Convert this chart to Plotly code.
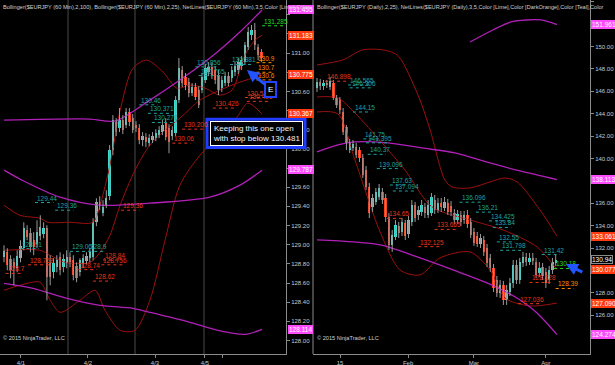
import plotly.graph_objects as go

# ---------------- Left panel: $EURJPY 60 Min ----------------
L_open = [128.869,128.921,128.848,128.816,128.754,128.858,128.963,129.151,129.119,129.046,129.004,129.088,129.109,129.172,128.806,128.712,128.764,128.869,128.764,128.806,128.869,128.837,128.775,128.712,128.795,128.827,128.858,128.869,129.234,129.443,129.328,129.412,129.506,129.987,130.279,130.217,130.300,130.248,130.384,130.321,130.248,130.217,130.091,130.123,130.060,130.091,130.112,130.143,130.175,130.269,130.217,130.133,130.164,130.509,130.823,130.749,130.697,130.582,130.645,130.614,130.614,130.718,130.802,130.854,130.823,130.770,130.634,130.687,130.760,130.739,130.802,130.823,130.864,130.906,131.063,131.188,131.241,131.063,131.011]
L_high = [128.994,128.963,128.890,128.858,128.942,129.046,129.234,129.203,129.172,129.130,129.255,129.307,129.234,129.203,128.890,128.858,128.890,128.921,128.900,128.942,128.921,128.890,128.816,128.858,128.900,128.921,128.963,129.276,129.485,129.506,129.464,129.569,130.039,130.352,130.321,130.426,130.352,130.426,130.426,130.363,130.290,130.258,130.175,130.164,130.154,130.175,130.206,130.237,130.300,130.321,130.258,130.237,130.551,130.948,130.864,130.791,130.739,130.687,130.687,130.655,130.791,130.885,130.906,130.896,130.864,130.823,130.760,130.802,130.802,130.864,130.906,130.948,130.969,131.115,131.272,131.293,131.314,131.094,131.042]
L_low = [128.816,128.733,128.649,128.576,128.712,128.816,128.942,129.046,128.921,128.890,128.963,129.046,129.067,128.419,128.576,128.649,128.712,128.681,128.712,128.754,128.764,128.628,128.608,128.670,128.754,128.795,128.816,128.837,129.193,129.360,129.297,129.381,129.464,129.934,130.133,130.175,130.154,130.217,130.237,130.164,130.175,130.049,130.028,130.018,130.028,130.060,130.081,130.112,130.143,130.091,129.955,130.091,130.133,130.478,130.645,130.614,130.540,130.551,130.509,130.426,130.582,130.687,130.760,130.729,130.676,130.561,130.593,130.655,130.655,130.697,130.760,130.781,130.823,130.875,131.032,131.136,131.032,130.927,130.906]
L_close = [128.931,128.785,128.733,128.754,128.879,128.984,129.172,129.078,128.973,128.973,129.130,129.182,129.172,128.660,128.660,128.806,128.837,128.733,128.848,128.869,128.816,128.681,128.649,128.837,128.858,128.879,128.921,129.234,129.443,129.412,129.391,129.485,129.987,130.300,130.175,130.300,130.196,130.384,130.279,130.196,130.217,130.091,130.133,130.070,130.112,130.133,130.164,130.196,130.248,130.123,130.070,130.196,130.509,130.843,130.687,130.666,130.582,130.645,130.540,130.457,130.749,130.843,130.854,130.770,130.718,130.614,130.718,130.760,130.687,130.823,130.864,130.906,130.927,131.084,131.220,131.241,131.084,130.979,130.948]

L_date_ticks = [5.15, 25.45, 45.76, 60.9, 66.06]
L_date_text = ["4/1", "4/2", "4/3", "4/5", ""]
L_session_breaks = [19.4, 39.7, 60.6]
L_yticks = [round(128.00 + 0.2 * k, 2) for k in range(18)]

# Bollinger (2,25) - dark red
L_bb25_x = {
    "upper": [0, 4.8, 10.9, 13.3, 20, 27, 29.1, 32.1, 35.2, 39.1, 43.3, 48.2, 52.4, 56.4, 60.9, 65.5, 69.1, 73, 76.1, 78.2],
    "mid":   [0, 10.9, 14, 18.5, 26.1, 29.1, 32.1, 35.2, 39.7, 44.2, 48.8, 53.3, 59.4, 65.5, 71.5, 78.2],
    "lower": [0, 4.8, 10.9, 14, 17, 23, 27.6, 30.6, 35.2, 39.7, 44.2, 48.8, 53.3, 59.4, 65.5, 70.6, 73.9, 78.2],
}
L_bb25_y = {
    "upper": [129.412,129.307,129.276,129.234,129.234,129.234,129.412,129.830,130.405,130.843,130.927,130.802,130.634,130.666,130.634,130.561,130.614,130.979,131.136,131.188],
    "mid":   [128.942,128.942,128.890,128.816,128.816,128.921,129.098,129.412,129.778,130.039,130.196,130.321,130.509,130.614,130.697,130.770],
    "lower": [128.524,128.576,128.608,128.419,128.294,128.419,128.524,128.315,128.106,128.106,128.419,129.046,129.621,129.934,130.143,130.331,130.478,130.363],
}
# Bollinger (2,100) - magenta
L_bb100_x = {
    "upper": [0, 26.1, 33.6, 44.2, 53.3, 62.4, 71.5, 78.2],
    "mid":   [0, 5.5, 17, 29.1, 44.2, 62.4, 71.5, 78.2],
    "lower": [0, 8.8, 19.1, 29.1, 39.1, 44.2, 56.4, 64.8, 73, 78.2],
}
L_bb100_y = {
    "upper": [130.300,130.311,130.290,130.509,130.718,130.948,131.220,131.450],
    "mid":   [129.778,129.673,129.496,129.412,129.433,129.496,129.621,129.778],
    "lower": [128.597,128.545,128.440,128.367,128.336,128.294,128.189,128.106,128.064,128.116],
}

L_tags = [131.455, 131.183, 130.775, 130.367, 129.787, 128.114]
L_tag_kind = ["m", "r", "r", "r", "m", "m"]

L_lab_text = ["129.44", "129.36", "128.91", "129.06", "128.9", "129.36", "128.84", "128.756", "128.74", "128.62",
              "128.758", "128.7", "130.46", "130.371", "130.276", "130.206", "130.06", "130.856", "130.765",
              "130.881", "130.426", "130.536", "130.496", "130.9", "130.7", "130.6", "131.285"]
L_lab_x = [9.4, 15.5, 5, 20, 25.5, 35.5, 30, 29.5, 22.5, 27, 7.3, 0.5, 41, 43.6, 44.8, 54, 51, 58, 59,
           68.5, 63.3, 73, 73.6, 76.5, 76.5, 76.5, 78.2]
L_lab_price = [129.44, 129.36, 128.96, 128.93, 128.93, 129.36, 128.84, 128.79, 128.74, 128.62,
               128.79, 128.70, 130.46, 130.371, 130.276, 130.206, 130.06, 130.856, 130.765,
               130.881, 130.426, 130.536, 130.496, 130.90, 130.80, 130.72, 131.285]
L_lab_col = ["t", "t", "t", "t", "t", "r", "r", "r", "r", "r", "r", "r", "t", "t", "t", "r", "r", "t", "t",
             "t", "r", "r", "r", "o", "o", "o", "g"]

# ---------------- Right panel: $EURJPY Daily ----------------
R_open = [146.294,146.830,146.473,146.741,146.384,146.741,145.401,145.223,144.152,142.812,140.759,140.937,141.026,140.759,140.044,138.973,137.455,135.669,136.116,136.562,137.009,136.473,134.776,132.276,132.990,133.973,133.437,134.241,133.259,134.330,135.848,134.955,135.223,135.669,134.955,135.134,136.294,135.401,136.026,135.580,136.026,135.758,135.134,134.509,134.955,134.509,134.955,134.330,133.437,133.080,132.366,132.723,132.009,131.116,130.223,129.152,127.991,128.705,127.366,128.080,128.884,130.491,129.152,130.670,131.205,130.759,131.116,130.759,129.776,130.312,129.866,129.152,130.045,130.670]
R_high = [147.187,147.098,147.009,147.009,147.277,147.009,145.670,145.491,144.509,142.991,141.741,141.651,141.384,141.026,140.402,139.330,137.812,136.830,137.366,137.723,137.366,136.830,135.134,133.616,134.509,134.330,134.687,134.509,134.866,136.294,136.116,135.758,136.294,136.026,136.294,136.919,136.741,136.473,136.473,136.562,136.384,136.205,135.491,135.401,135.312,135.312,135.401,134.687,133.794,133.437,133.259,133.080,132.366,131.473,130.580,129.509,129.152,129.062,128.705,129.330,130.937,130.937,131.116,131.652,131.562,131.562,131.562,131.116,130.759,130.670,130.223,130.402,131.116,131.384]
R_low = [145.937,146.116,146.116,146.294,146.116,145.223,144.509,143.973,142.098,140.759,140.491,140.669,140.044,139.687,138.258,137.187,134.687,135.223,135.848,136.294,135.937,134.330,131.830,131.652,132.723,132.901,133.080,132.723,132.901,133.973,134.330,134.509,134.866,134.687,134.687,134.866,135.044,135.134,135.223,135.312,134.955,134.866,134.152,134.152,133.973,134.152,133.794,132.901,132.187,132.098,132.009,131.294,130.312,129.866,128.080,127.634,127.545,126.920,126.920,127.723,128.437,128.795,128.795,130.312,130.402,130.491,130.491,129.330,129.420,129.152,128.437,128.795,129.687,130.402]
R_close = [146.830,146.473,146.741,146.562,146.919,145.401,144.777,144.330,142.366,141.384,141.384,141.294,140.312,140.044,138.526,137.455,135.134,136.473,137.009,137.366,136.294,134.776,132.276,133.169,134.062,133.348,134.330,133.080,134.509,135.848,134.687,135.401,135.848,135.134,135.848,136.562,135.401,136.026,135.669,136.116,135.223,135.223,134.509,135.044,134.330,134.955,134.152,133.169,132.455,132.366,132.901,131.652,130.670,130.223,128.437,127.991,128.705,127.366,128.259,128.884,130.491,129.152,130.759,131.205,130.759,131.116,130.848,129.598,130.223,129.509,128.884,130.045,130.759,130.937]

R_date_ticks = [7.06, 27.85, 48.0, 70.0]
R_date_text = ["15", "Feb", "Mar", "Apr"]
R_yticks = [124 + 2 * k for k in range(16)]

R_bb25_x = {
    "upper": [0, 7.9, 14, 20, 24, 26, 31.5, 34.6, 39.1, 41.3, 46.8, 52.9, 57.5, 61.2, 68.2, 73.4],
    "mid":   [0, 6.4, 11.6, 19.9, 26.9, 35.2, 46.8, 56.9, 67.3, 73.4],
    "lower": [0, 6.4, 11.6, 19.3, 25.4, 31.5, 37.6, 46.8, 52.9, 57.5, 65.1, 73.4],
}
R_bb25_y = {
    "upper": [148.35,148.80,149.70,149.70,149.35,148.70,145.223,142.544,138.080,137.455,137.366,137.902,138.259,137.902,135.401,133.061],
    "mid":   [145.491,145.401,144.062,141.384,138.973,135.669,134.509,133.616,132.098,130.077],
    "lower": [144.152,143.973,139.866,133.437,130.045,129.598,131.116,131.652,130.045,127.545,126.831,127.090],
}
R_bb100_x = {
    "upper": [46.8, 53.8, 59.3, 63.9, 68.5, 73.4],
    "mid":   [0, 6.4, 11.6, 21.7, 32.1, 42.2, 52.9, 62.1, 73.4],
    "lower": [0, 19.3, 31.5, 41.6, 52, 62.1, 67.3, 73.4],
}
R_bb100_y = {
    "upper": [150.402,151.473,152.188,152.366,152.366,151.961],
    "mid":   [140.580,141.205,141.473,141.384,140.937,140.491,139.598,138.884,138.113],
    "lower": [132.723,132.276,131.116,130.045,128.884,127.366,126.205,124.274],
}

R_tags = [151.961, 138.113, 133.061, 130.94, 130.077, 127.090, 124.274]
R_tag_text = ["151.961", "138.113", "133.061", "130.94", "130.077", "127.090", "124.274"]
R_tag_kind = ["m", "m", "r", "k", "r", "r", "m"]

R_lab_text = ["146.898", "146.565", "146.306", "144.15", "141.75", "141.395", "140.37", "139.096", "137.63",
              "137.094", "134.65", "136.096", "136.21", "134.425", "133.84", "132.55", "131.798", "131.42",
              "133.665", "132.125", "128.928", "127.036", "130.18", "128.39"]
R_lab_x = [2.5, 9.5, 10, 11, 14.2, 15, 15.5, 18.3, 22.3, 23.2, 21.4, 43.6, 48.6, 52.6, 53.8, 55, 56, 68.7,
           36, 31, 65, 61.5, 72.5, 73]
R_lab_price = [146.898, 146.565, 146.306, 144.15, 141.75, 141.395, 140.37, 139.096, 137.63,
               137.094, 134.65, 136.096, 135.21, 134.425, 133.84, 132.55, 131.798, 131.42,
               133.665, 132.125, 128.928, 127.036, 130.18, 128.39]
R_lab_col = ["r", "t", "t", "t", "t", "t", "t", "t", "t", "t", "r", "t", "t", "t", "t", "t", "t", "t",
             "r", "r", "r", "r", "g", "o"]

# ---------------- styling ----------------
W, H = 615, 365
FONT = "Liberation Sans, Arial, sans-serif"
UP, DOWN, WICK = "#3fd8cc", "#ff3b1a", "#9a9a9a"
DKRED, MAG = "#9c1010", "#b020b8"
LABCOL = {"t": "#1fa3a0", "r": "#e8341a", "o": "#ff8c00", "g": "#22dd22"}
TAGBG = {"m": "#ff4cff", "r": "#ff3a10", "k": "#000000"}

L_DOM = [0, 286 / W]
R_DOM = [313 / W, 590 / W]
L_XR = [-1.21, 85.45]
R_XR = [-1.22, 83.49]
L_YR = [127.859, 131.554]
R_YR = [122.54, 154.15]
PLOT_H = 354

fig = go.Figure()


def add_candles(o, h, l, c, xa, ya):
    xs = list(range(len(o)))
    wx, wy = [], []
    for i in xs:
        wx += [i, i, None]
        wy += [l[i], h[i], None]
    fig.add_trace(go.Scatter(x=wx, y=wy, mode="lines", line=dict(color=WICK, width=1),
                             xaxis=xa, yaxis=ya, hoverinfo="skip", showlegend=False))
    body = [c[i] - o[i] if abs(c[i] - o[i]) > 0.004 else (0.006 if xa == "x" else 0.06) for i in xs]
    cols = [UP if c[i] >= o[i] else DOWN for i in xs]
    fig.add_trace(go.Bar(x=xs, y=body, base=o, marker=dict(color=cols, line=dict(width=0)),
                         width=0.72, xaxis=xa, yaxis=ya, showlegend=False, hoverinfo="skip"))


def add_band(xd, yd, color, width, xa, ya):
    for k in xd:
        fig.add_trace(go.Scatter(x=xd[k], y=yd[k], mode="lines",
                                 line=dict(color=color, width=width, shape="spline", smoothing=0.8),
                                 xaxis=xa, yaxis=ya, hoverinfo="skip", showlegend=False))


add_band(L_bb25_x, L_bb25_y, DKRED, 1, "x", "y")
add_band(L_bb100_x, L_bb100_y, MAG, 1.3, "x", "y")
add_band(R_bb25_x, R_bb25_y, DKRED, 1, "x2", "y2")
add_band(R_bb100_x, R_bb100_y, MAG, 1.3, "x2", "y2")
add_candles(L_open, L_high, L_low, L_close, "x", "y")
add_candles(R_open, R_high, R_low, R_close, "x2", "y2")

shapes = []
annotations = []

for b in L_session_breaks:
    shapes.append(dict(type="line", xref="x", yref="y domain", x0=b, x1=b, y0=0, y1=1,
                       line=dict(color="#4a4a4a", width=1), layer="below"))
shapes.append(dict(type="line", xref="x2 domain", yref="y2 domain", x0=0, x1=0, y0=0, y1=1,
                   line=dict(color="#8a8a8a", width=1)))


def add_labels(texts, xs, ps, cols, xa, ya, span):
    for t, x, p, c in zip(texts, xs, ps, cols):
        col = LABCOL[c]
        shapes.append(dict(type="line", xref=xa, yref=ya, x0=x, x1=x + span * len(t) / 6, y0=p, y1=p,
                           line=dict(color=col, width=1, dash="dot")))
        annotations.append(dict(xref=xa, yref=ya, x=x, y=p, text=t, showarrow=False,
                                xanchor="left", yanchor="bottom", yshift=-1,
                                font=dict(family=FONT, size=6.5, color=col)))


add_labels(L_lab_text, L_lab_x, L_lab_price, L_lab_col, "x", "y", 5.6)
add_labels(R_lab_text, R_lab_x, R_lab_price, R_lab_col, "x2", "y2", 5.6)


def add_tags(vals, texts, kinds, xpix, ya):
    for v, t, k in zip(vals, texts, kinds):
        annotations.append(dict(xref="paper", yref=ya, x=xpix / W, y=v, text=t, showarrow=False,
                                xanchor="left", yanchor="middle", bgcolor=TAGBG[k],
                                bordercolor="#8a8a8a" if k == "k" else TAGBG[k], borderwidth=1, borderpad=0,
                                font=dict(family=FONT, size=6.5, color="white")))


add_tags(L_tags, [f"{v:.3f}" for v in L_tags], L_tag_kind, 288, "y")
add_tags(R_tags, R_tag_text, R_tag_kind, 591, "y2")


def tick_texts(ticks, tags, yr):
    ppu = PLOT_H / (yr[1] - yr[0])
    out = []
    for t in ticks:
        hidden = any(abs(t - g) * ppu < 6 for g in tags)
        out.append("" if hidden else f"{t:.2f}")
    return out


# headers
annotations.append(dict(xref="paper", yref="paper", x=1 / W, y=1 - 2 / H, xanchor="left", yanchor="top",
                        showarrow=False, text="Bollinger($EURJPY (60 Min),2,100), Bollinger($EURJPY (60 Min),2,25), NetLines($EURJPY (60 Min),3,5,Color [Lime],Color",
                        font=dict(family=FONT, size=5.6, color="#d0d0d0")))
annotations.append(dict(xref="paper", yref="paper", x=315 / W, y=1 - 2 / H, xanchor="left", yanchor="top",
                        showarrow=False, text="Bollinger($EURJPY (Daily),2,25), NetLines($EURJPY (Daily),3,5,Color [Lime],Color [DarkOrange],Color [Teal],Color",
                        font=dict(family=FONT, size=5.6, color="#d0d0d0")))
for xp in (1, 315):
    annotations.append(dict(xref="paper", yref="paper", x=xp / W, y=1 - 348 / H, xanchor="left", yanchor="middle",
                            showarrow=False, text="© 2015 NinjaTrader, LLC",
                            font=dict(family=FONT, size=5.6, color="#d0d0d0")))

# callout: blue outer frame + white inner frame
shapes.append(dict(type="rect", xref="paper", yref="paper", x0=207 / W, x1=305 / W, y0=1 - 152 / H, y1=1 - 123 / H,
                   line=dict(color="#1f3cff", width=3), fillcolor="#000000"))
annotations.append(dict(xref="paper", yref="paper", x=256 / W, y=1 - 137.5 / H, xanchor="center", yanchor="middle",
                        showarrow=False, text="Keeping this one open<br>with stop below 130.481",
                        align="left", bgcolor="#000000", bordercolor="#ffffff", borderwidth=1, borderpad=2,
                        font=dict(family=FONT, size=8, color="#f0f4ff")))
# E marker with arrow
annotations.append(dict(xref="x", yref="y", x=73.6, y=130.823, ax=24, ay=19, axref="pixel", ayref="pixel",
                        text="E", showarrow=True, arrowhead=2, arrowsize=0.8, arrowwidth=3, arrowcolor="#2255ff",
                        bgcolor="#000000", bordercolor="#2244ff", borderwidth=2, borderpad=2,
                        font=dict(family=FONT, size=8, color="white")))
annotations.append(dict(xref="x2", yref="y2", x=76.1, y=130.58, ax=18, ay=9,
                        text="", showarrow=True, arrowhead=2, arrowsize=0.8, arrowwidth=3, arrowcolor="#2255ff"))

axis_common = dict(showgrid=False, zeroline=False, color="#c8c8c8", linecolor="#8a8a8a", showline=True,
                   ticks="outside", ticklen=3, tickcolor="#8a8a8a",
                   tickfont=dict(family=FONT, size=6, color="#c8c8c8"))

fig.update_layout(
    width=W, height=H, margin=dict(l=0, r=0, t=0, b=H - PLOT_H),
    paper_bgcolor="black", plot_bgcolor="black", showlegend=False, bargap=0,
    xaxis=dict(domain=L_DOM, range=L_XR, anchor="y", tickvals=L_date_ticks, ticktext=L_date_text, **axis_common),
    yaxis=dict(domain=[0, 1], range=L_YR, anchor="x", side="right", tickvals=L_yticks,
               ticktext=tick_texts(L_yticks, L_tags, L_YR), **axis_common),
    xaxis2=dict(domain=R_DOM, range=R_XR, anchor="y2", tickvals=R_date_ticks, ticktext=R_date_text, **axis_common),
    yaxis2=dict(domain=[0, 1], range=R_YR, anchor="x2", side="right", tickvals=R_yticks,
                ticktext=tick_texts(R_yticks, R_tags, R_YR), **axis_common),
    shapes=shapes, annotations=annotations,
)

fig.write_html("out.html")
